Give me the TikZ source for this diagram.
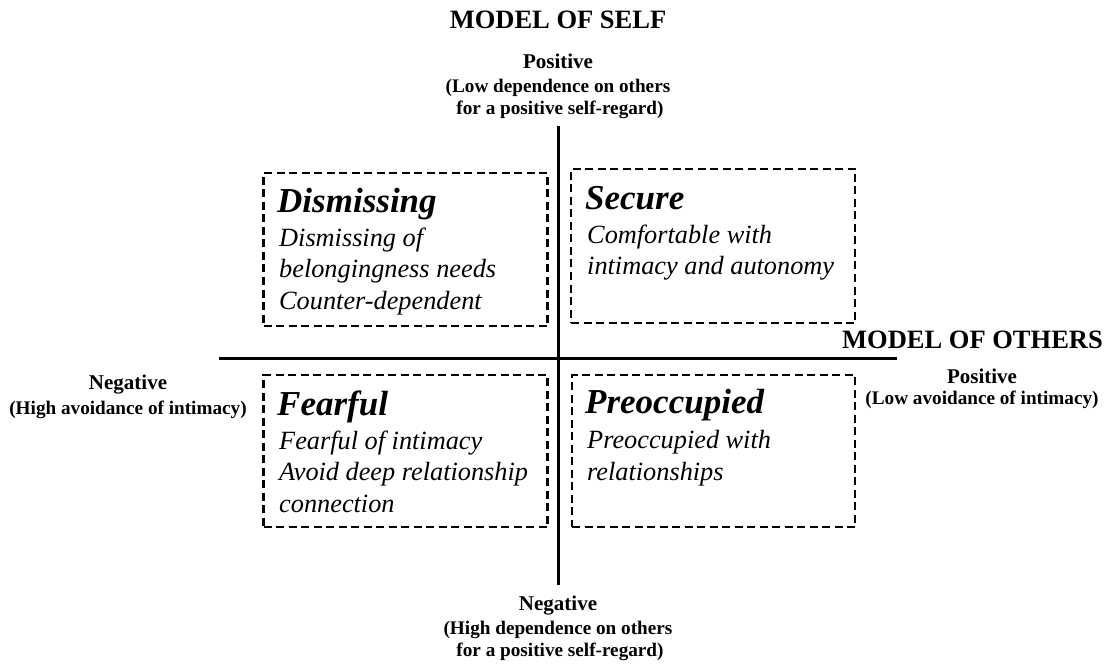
\documentclass[tikz,border=0pt]{standalone}
\usepackage{fontspec}
\setmainfont{Liberation Serif}
\begin{document}
\begin{tikzpicture}[x=1pt,y=-1pt,
  axis/.style={line width=3pt,line cap=butt},
  qbox/.style={draw,line width=2.6pt,dash pattern=on 8pt off 4.5pt,inner sep=0pt},
  qtitle/.style={anchor=base west,inner sep=0pt,font=\fontsize{35}{38}\selectfont\bfseries\itshape},
  qbody/.style={anchor=base west,inner sep=0pt,align=left,font=\fontsize{26.3}{31.5}\selectfont\itshape},
  head/.style={inner sep=0pt,font=\fontsize{26.5}{28}\selectfont\bfseries},
  pole/.style={anchor=base,inner sep=0pt,font=\fontsize{21}{22}\selectfont\bfseries},
  sub/.style={anchor=base,inner sep=0pt,font=\fontsize{19.2}{22}\selectfont\bfseries}]
\useasboundingbox (0,0) rectangle (1105,668);
% axes
\coordinate (hl) at (219,358);
\coordinate (hr) at (897,358);
\coordinate (vt) at (558,126);
\coordinate (vb) at (558,585);
\draw[axis] (hl) -- (hr);
\draw[axis] (vt) -- (vb);
% boxes
\node[qbox,minimum width=284pt,minimum height=153pt] (dis) at (405.5,249.5) {};
\node[qbox,minimum width=284pt,minimum height=154pt] (sec) at (713,246) {};
\node[qbox,minimum width=284pt,minimum height=152pt] (fea) at (405.5,451) {};
\node[qbox,minimum width=283pt,minimum height=152pt] (pre) at (713.5,451) {};
% box texts (body nodes are placed at the baseline of their last line)
\node[qtitle] (dist) at (277,213) {Dismissing};
\node[qbody] (disb) at (279,309) {Dismissing of\\belongingness needs\\Counter-dependent};
\node[qtitle] (sect) at (585,210) {Secure};
\node[qbody] (secb) at (587,275) {Comfortable with\\intimacy and autonomy};
\node[qtitle] (feat) at (277,415) {Fearful};
\node[qbody] (feab) at (279,512) {Fearful of intimacy\\Avoid deep relationship\\connection};
\node[qtitle] (pret) at (585,413) {Preoccupied};
\node[qbody] (preb) at (587,480) {Preoccupied with\\relationships};
% headings
\node[head,anchor=base] (mself) at (558,29) {MODEL OF SELF};
\node[head,anchor=base east] (mothers) at (1103,348) {MODEL OF OTHERS};
% poles
\node[pole] (ptop) at (558,69) {Positive};
\node[sub] (ptop1) at (558,93) {(Low dependence on others};
\node[sub] (ptop2) at (560,115) {for a positive self-regard)};
\node[pole] (pbot) at (558,610) {Negative};
\node[sub] (pbot1) at (558,634) {(High dependence on others};
\node[sub] (pbot2) at (560,656) {for a positive self-regard)};
\node[pole] (pleft) at (128,389) {Negative};
\node[sub] (pleft1) at (128,414) {(High avoidance of intimacy)};
\node[pole] (pright) at (982,383) {Positive};
\node[sub] (pright1) at (982,404) {(Low avoidance of intimacy)};
\end{tikzpicture}
\end{document}
